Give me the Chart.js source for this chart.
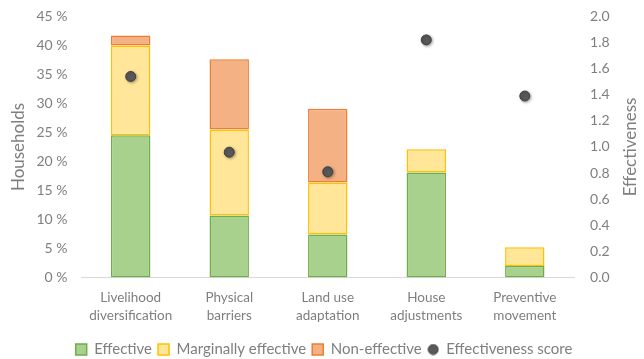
<!DOCTYPE html>
<html>
<head>
    <title>Household adaptation measures</title>
    <script src="https://cdn.jsdelivr.net/npm/chart.js@4/dist/chart.umd.min.js"></script>
    <style>
        body { margin: 0; background: #fff; }
        #wrap { width: 644px; height: 359px; }
    </style>
</head>
<body>
    <div id="wrap"><canvas id="myChart" width="644" height="359"></canvas></div>

    <script>
        var categories = [
            ['Livelihood', 'diversification'],
            ['Physical', 'barriers'],
            ['Land use', 'adaptation'],
            ['House', 'adjustments'],
            ['Preventive', 'movement']
        ];
        var effective = [24.5, 10.7, 7.4, 18.1, 2.0];
        var marginal = [15.5, 14.8, 9.0, 4.0, 3.2];
        var nonEffective = [1.7, 12.1, 12.7, 0, 0];
        var score = [1.54, 0.96, 0.81, 1.82, 1.39];

        Chart.defaults.font.family = 'Lato, "Open Sans", sans-serif';
        Chart.defaults.color = '#7f7f7f';

        // small grey dot for the legend entry of the score series
        var dot = document.createElement('canvas');
        dot.width = 12; dot.height = 12;
        var dctx = dot.getContext('2d');
        dctx.beginPath();
        dctx.arc(6, 6, 5, 0, Math.PI * 2);
        dctx.fillStyle = '#595959';
        dctx.fill();
        dctx.lineWidth = 1;
        dctx.strokeStyle = '#404040';
        dctx.stroke();

        // right axis title reads bottom-to-top, and the dots get a soft shadow
        var extras = {
            id: 'extras',
            beforeDatasetDraw: function(chart, args) {
                if (args.index === 3) {
                    chart.ctx.save();
                    chart.ctx.shadowColor = 'rgba(0,0,0,0.35)';
                    chart.ctx.shadowBlur = 3;
                    chart.ctx.shadowOffsetX = 1;
                    chart.ctx.shadowOffsetY = 1;
                }
            },
            afterDatasetDraw: function(chart, args) {
                if (args.index === 3) chart.ctx.restore();
            },
            afterDraw: function(chart) {
                var s = chart.scales.y1;
                var c = chart.ctx;
                c.save();
                c.translate(s.right - 11, (s.top + s.bottom) / 2);
                c.rotate(-Math.PI / 2);
                c.font = '17px Lato, "Open Sans", sans-serif';
                c.fillStyle = '#7f7f7f';
                c.textAlign = 'center';
                c.textBaseline = 'middle';
                c.fillText('Effectiveness', 0, 0);
                c.restore();
            }
        };

        var ctx = document.getElementById('myChart').getContext('2d');
        var chart = new Chart(ctx, {
            type: 'bar',
            data: {
                labels: categories,
                datasets: [{
                    label: 'Effective',
                    data: effective,
                    backgroundColor: '#a9d18e',
                    borderColor: '#70ad47',
                    borderWidth: 1.5,
                    borderSkipped: false,
                    order: 1
                }, {
                    label: 'Marginally effective',
                    data: marginal,
                    backgroundColor: '#ffe699',
                    borderColor: '#ffc000',
                    borderWidth: 1.5,
                    borderSkipped: false,
                    order: 1
                }, {
                    label: 'Non-effective',
                    data: nonEffective,
                    backgroundColor: '#f4b183',
                    borderColor: '#ed7d31',
                    borderWidth: 1.5,
                    borderSkipped: false,
                    order: 1
                }, {
                    type: 'line',
                    label: 'Effectiveness score',
                    data: score,
                    yAxisID: 'y1',
                    showLine: false,
                    pointRadius: 5,
                    pointHoverRadius: 5,
                    pointBackgroundColor: '#595959',
                    pointBorderColor: '#404040',
                    pointBorderWidth: 1,
                    backgroundColor: '#595959',
                    borderColor: '#404040',
                    order: 0
                }]
            },
            options: {
                responsive: false,
                animation: false,
                layout: { padding: { left: 6, right: 2, top: 8, bottom: -8 } },
                datasets: {
                    bar: { barPercentage: 1, categoryPercentage: 0.4 }
                },
                scales: {
                    x: {
                        stacked: true,
                        grid: { display: false, drawTicks: false },
                        border: { color: '#d9d9d9', width: 1 },
                        ticks: {
                            font: { size: 13.5, lineHeight: 1.35 },
                            color: '#7f7f7f',
                            padding: 11,
                            maxRotation: 0
                        }
                    },
                    y: {
                        stacked: true,
                        min: 0,
                        max: 45,
                        position: 'left',
                        grid: { display: false },
                        border: { display: false },
                        ticks: {
                            stepSize: 5,
                            font: { size: 14 },
                            color: '#7f7f7f',
                            padding: 6,
                            callback: function(v) { return v + ' %'; }
                        },
                        title: {
                            display: true,
                            text: 'Households',
                            font: { size: 17 },
                            color: '#7f7f7f',
                            padding: 2
                        }
                    },
                    y1: {
                        min: 0,
                        max: 2,
                        position: 'right',
                        grid: { display: false },
                        border: { display: false },
                        ticks: {
                            stepSize: 0.2,
                            font: { size: 14 },
                            color: '#7f7f7f',
                            padding: 8,
                            callback: function(v) { return v.toFixed(1); }
                        },
                        title: {
                            display: true,
                            text: 'Effectiveness',
                            font: { size: 17 },
                            color: 'rgba(0,0,0,0)',
                            padding: 2
                        }
                    }
                },
                plugins: {
                    tooltip: { enabled: false },
                    legend: {
                        position: 'bottom',
                        labels: {
                            usePointStyle: true,
                            boxWidth: 11,
                            boxHeight: 11,
                            padding: 6,
                            font: { size: 15, lineHeight: 1 },
                            color: '#7f7f7f',
                            sort: function(a, b) { return a.datasetIndex - b.datasetIndex; },
                            generateLabels: function(chart) {
                                var items = Chart.defaults.plugins.legend.labels.generateLabels(chart);
                                items.forEach(function(it) {
                                    it.pointStyle = it.datasetIndex === 3 ? dot : 'rect';
                                });
                                return items;
                            }
                        }
                    }
                }
            },
            plugins: [extras]
        });
    </script>
</body>
</html>
